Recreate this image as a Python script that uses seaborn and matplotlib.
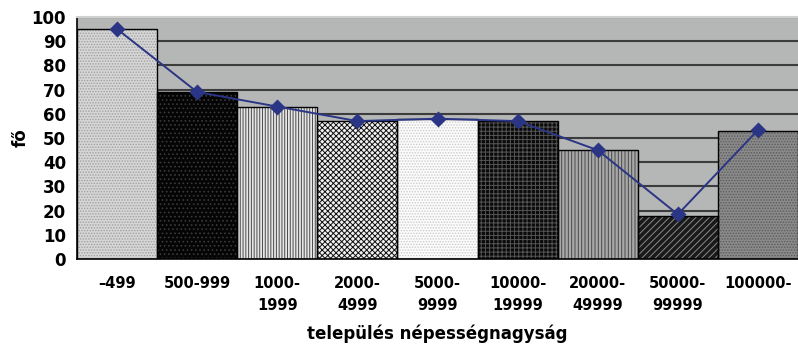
import matplotlib
matplotlib.use("Agg")
import matplotlib.pyplot as plt
import seaborn as sns
import pandas as pd

# settlement-size categories and values
categories = ["–499", "500-999", "1000-\n1999", "2000-\n4999", "5000-\n9999",
              "10000-\n19999", "20000-\n49999", "50000-\n99999", "100000-"]
bar_values = [95, 69, 63, 57, 58, 57, 45, 18, 53]
line_values = [95, 69, 63, 57, 58, 57, 45, 18.5, 53.3]
y_ticks = [0, 10, 20, 30, 40, 50, 60, 70, 80, 90, 100]

# fill styles for each bar: (face colour, hatch, hatch colour)
fills = [
    ("#d6d6d6", "......", "#a0a0a0"),
    ("#050505", "....", "#3a3a3a"),
    ("#e6e6e6", "||||||", "#4a4a4a"),
    ("#f0f0f0", "xxxxxx", "#101010"),
    ("#fbfbfb", "......", "#cccccc"),
    ("#0a0a0a", "++++", "#555555"),
    ("#a8a8a8", "|||||", "#4a4a4a"),
    ("#1a1a1a", "/////", "#8a8a8a"),
    ("#8a8a8a", "......", "#5c5c5c"),
]

df = pd.DataFrame({"cat": categories, "val": bar_values, "line": line_values})

sns.set_style("white")
plt.rcParams["font.family"] = ["DejaVu Sans"]
plt.rcParams["hatch.linewidth"] = 0.7
plt.rcParams["text.color"] = "black"
plt.rcParams["axes.labelcolor"] = "black"
plt.rcParams["xtick.color"] = "black"
plt.rcParams["ytick.color"] = "black"

fig = plt.figure(figsize=(7.98, 3.46), dpi=100)
ax = fig.add_axes([0.0965, 0.251, 0.9035, 0.70])
ax.set_facecolor("#b5b7b7")

sns.barplot(data=df, x="cat", y="val", hue="cat", palette=[f[0] for f in fills],
            width=1.0, legend=False, ax=ax, zorder=2)
for patch, (face, hatch, hcol) in zip(ax.patches, fills):
    patch.set_facecolor(face)
    patch.set_hatch(hatch)
    patch.set_edgecolor(hcol)
    patch.set_linewidth(0)

# black outlines on top of the patterned bars
sns.barplot(data=df, x="cat", y="val", width=1.0, fill=False, color="black",
            linewidth=1.0, ax=ax, zorder=3)

sns.pointplot(data=df, x="cat", y="line", color="#2b3585", markers="D",
              errorbar=None, linewidth=1.4, markersize=7, ax=ax, zorder=5)

ax.set_ylim(0, 100)
ax.set_xlim(-0.5, len(categories) - 0.5)
ax.set_yticks(y_ticks)
ax.yaxis.grid(True, color="#3c3c3c", linewidth=1.5, zorder=1)
ax.set_axisbelow(True)

ax.set_xticks(range(len(categories)))
ax.set_xticklabels(categories, fontsize=10.5, fontweight="bold", linespacing=1.6)
ax.set_xticks([i - 0.5 for i in range(len(categories) + 1)], minor=True)
ax.tick_params(axis="x", which="major", length=0, pad=12)
ax.tick_params(axis="x", which="minor", length=5, width=1, color="black", direction="out")
ax.tick_params(axis="y", length=5, width=1, color="black", direction="out", pad=3,
               labelsize=12)
for lab in ax.get_yticklabels():
    lab.set_fontweight("bold")

for side in ["left", "bottom"]:
    ax.spines[side].set_color("black")
    ax.spines[side].set_linewidth(1.2)
ax.spines["right"].set_visible(False)
ax.spines["top"].set_color("#d0d0d0")
ax.spines["top"].set_linewidth(1.5)

ax.set_ylabel("fő", fontsize=12, fontweight="bold")
ax.yaxis.set_label_coords(-0.066, 0.5)
ax.set_xlabel("település népességnagyság", fontsize=12, fontweight="bold")
ax.xaxis.set_label_coords(0.5, -0.27)

fig.savefig("out.png", dpi=100)
